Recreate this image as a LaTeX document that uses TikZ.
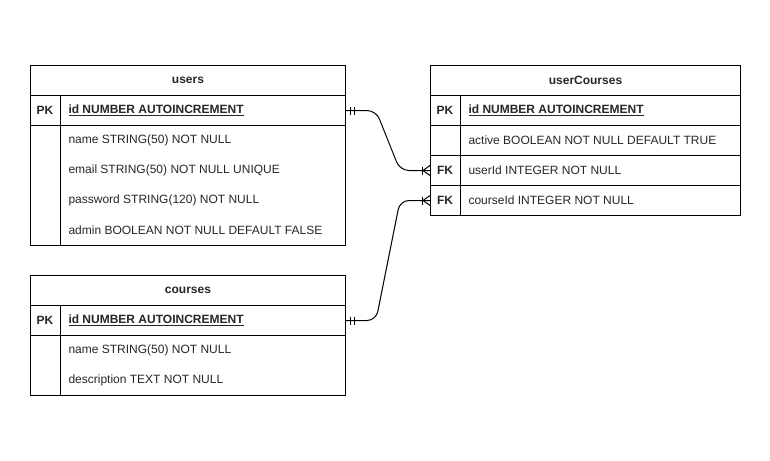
\documentclass[tikz,border=0pt]{standalone}
\usepackage{fontspec}
\setmainfont{Liberation Sans}
\begin{document}
\begin{tikzpicture}[x=1pt,y=-1pt,line width=1pt,
  every node/.style={font=\fontsize{12}{14}\selectfont, text=black!85},
  titlebox/.style={draw=black, minimum height=30pt, inner sep=0pt, anchor=north west, font=\fontsize{12}{14}\selectfont\bfseries},
  rowbox/.style={draw=black, minimum height=30pt, inner sep=0pt, anchor=north west},
  keytxt/.style={inner sep=0pt, anchor=center, font=\fontsize{12}{14}\selectfont\bfseries},
  fieldtxt/.style={inner sep=0pt, anchor=west},
  pktxt/.style={inner sep=0pt, anchor=west, font=\fontsize{12}{14}\selectfont\bfseries},
  conn/.style={draw=black, line width=1pt, rounded corners=9pt},
  ermark/.style={draw=black, line width=1pt}]
\useasboundingbox (0,0) rectangle (770,460);

% ---------- users ----------
\node[titlebox, minimum width=315pt] (uT) at (30,65) {users};
\node[rowbox, minimum width=315pt] (uPK) at (30,95) {};
\node[rowbox, minimum width=315pt, minimum height=120pt] (uB) at (30,125) {};
\draw ([xshift=30pt]uPK.north west) -- ([xshift=30pt]uB.south west);
\node[keytxt] (uPKk) at (45,110) {PK};
\node[pktxt] (uPKf) at (68,110) {\underline{id NUMBER AUTOINCREMENT}};
\node[fieldtxt] (uF1) at (68,140) {name STRING(50) NOT NULL};
\node[fieldtxt] (uF2) at (68,170) {email STRING(50) NOT NULL UNIQUE};
\node[fieldtxt] (uF3) at (68,200) {password STRING(120) NOT NULL};
\node[fieldtxt] (uF4) at (68,230) {admin BOOLEAN NOT NULL DEFAULT FALSE};

% ---------- courses ----------
\node[titlebox, minimum width=315pt] (cT) at (30,275) {courses};
\node[rowbox, minimum width=315pt] (cPK) at (30,305) {};
\node[rowbox, minimum width=315pt, minimum height=60pt] (cB) at (30,335) {};
\draw ([xshift=30pt]cPK.north west) -- ([xshift=30pt]cB.south west);
\node[keytxt] (cPKk) at (45,320) {PK};
\node[pktxt] (cPKf) at (68,320) {\underline{id NUMBER AUTOINCREMENT}};
\node[fieldtxt] (cF1) at (68,350) {name STRING(50) NOT NULL};
\node[fieldtxt] (cF2) at (68,380) {description TEXT NOT NULL};

% ---------- userCourses ----------
\node[titlebox, minimum width=310pt] (ucT) at (430,65) {userCourses};
\node[rowbox, minimum width=310pt] (ucPK) at (430,95) {};
\node[rowbox, minimum width=310pt] (ucA) at (430,125) {};
\node[rowbox, minimum width=310pt] (ucU) at (430,155) {};
\node[rowbox, minimum width=310pt] (ucC) at (430,185) {};
\draw ([xshift=30pt]ucPK.north west) -- ([xshift=30pt]ucC.south west);
\node[keytxt] (ucPKk) at (445,110) {PK};
\node[pktxt] (ucPKf) at (468,110) {\underline{id NUMBER AUTOINCREMENT}};
\node[fieldtxt] (ucF1) at (468,140) {active BOOLEAN NOT NULL DEFAULT TRUE};
\node[keytxt] (ucUk) at (445,170) {FK};
\node[fieldtxt] (ucF2) at (468,170) {userId INTEGER NOT NULL};
\node[keytxt] (ucCk) at (445,200) {FK};
\node[fieldtxt] (ucF3) at (468,200) {courseId INTEGER NOT NULL};

% ---------- connectors ----------
\draw[conn] (uPK.east) -- ++(30,0) -- ([xshift=-30pt]ucU.west) -- (ucU.west);
\draw[conn] (cPK.east) -- ++(30,0) -- ([xshift=-30pt]ucC.west) -- (ucC.west);

% mandatory-one marks
\foreach \n in {uPK,cPK}{
  \draw[ermark] ([xshift=4pt,yshift=4pt]\n.east) -- ([xshift=4pt,yshift=-4pt]\n.east);
  \draw[ermark] ([xshift=8pt,yshift=4pt]\n.east) -- ([xshift=8pt,yshift=-4pt]\n.east);
}
% one-or-many marks
\foreach \n in {ucU,ucC}{
  \draw[ermark] ([xshift=-8pt,yshift=4pt]\n.west) -- ([xshift=-8pt,yshift=-4pt]\n.west);
  \draw[ermark] ([xshift=-7pt]\n.west) -- ([yshift=5pt]\n.west);
  \draw[ermark] ([xshift=-7pt]\n.west) -- ([yshift=-5pt]\n.west);
}
\end{tikzpicture}
\end{document}
